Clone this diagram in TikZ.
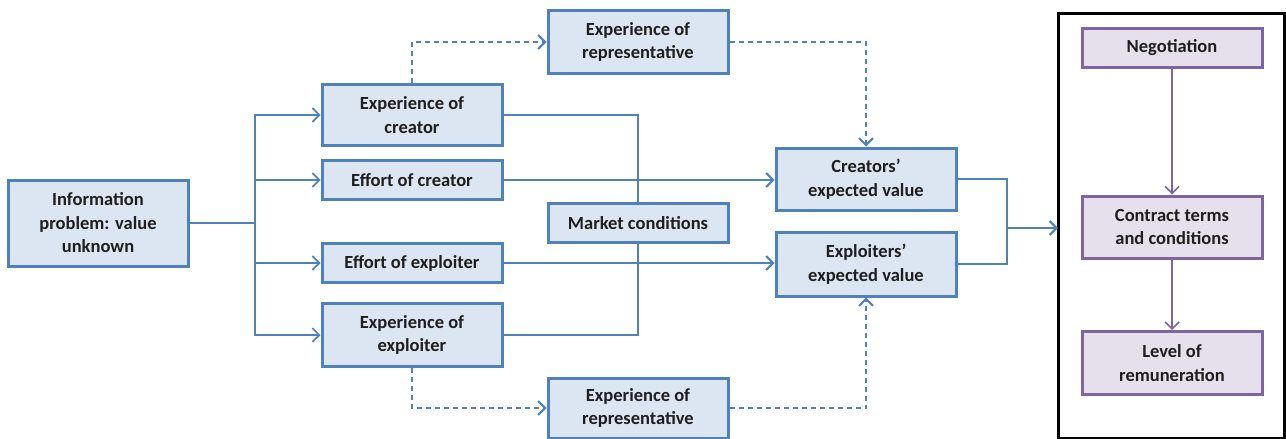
\documentclass[tikz,border=0pt]{standalone}
\usepackage{fontspec}
\setmainfont{Carlito}
\usetikzlibrary{arrows.meta}
\definecolor{bb}{HTML}{4F81BD}
\definecolor{bf}{HTML}{DCE6F2}
\definecolor{pb}{HTML}{8064A2}
\definecolor{pf}{HTML}{E6E0EC}
\definecolor{tx}{HTML}{1E1E1E}
\begin{document}
\begin{tikzpicture}[x=1pt,y=-1pt,
  box/.style={draw=bb,fill=bf,line width=3pt,minimum width=180pt,align=center,
    font=\fontsize{18.5}{23.5}\selectfont\bfseries,text=tx,inner sep=1pt},
  pbox/.style={box,draw=pb,fill=pf},
  conn/.style={draw=bb,line width=1.5pt},
  thick conn/.style={draw=bb,line width=2.3pt},
  arr/.style={conn,-{Straight Barb[length=7pt,width=14pt,line width=1.6pt]}},
  tarr/.style={thick conn,-{Straight Barb[length=7pt,width=14pt,line width=2pt]}},
  darr/.style={tarr,dashed,dash pattern=on 5pt off 4pt},
  dconn/.style={thick conn,dashed,dash pattern=on 5pt off 4pt},
  parr/.style={draw=pb,line width=1.6pt,-{Straight Barb[length=7pt,width=14pt,line width=1.6pt]}}]
\useasboundingbox (0,0) rectangle (1286,439);
\node[box,minimum width=180pt,minimum height=86pt] (info) at (98,223) {Information\\problem: value\\unknown};
\node[box,minimum height=61pt] (expc) at (412,115) {Experience of\\creator};
\node[box,minimum height=39pt] (effc) at (412,180) {Effort of creator};
\node[box,minimum height=39pt] (effe) at (412,263) {Effort of exploiter};
\node[box,minimum height=63pt] (expe) at (412,335) {Experience of\\exploiter};
\node[box,minimum height=63pt] (rept) at (638,42) {Experience of\\representative};
\node[box,minimum height=39pt] (mkt) at (638,223) {Market conditions};
\node[box,minimum height=60pt] (repb) at (638,408) {Experience of\\representative};
\node[box,minimum height=62pt] (cev) at (866,179) {Creators'\\expected value};
\node[box,minimum height=64pt] (eev) at (866,264) {Exploiters'\\expected value};
\draw[line width=3pt,black] (1058,13) rectangle (1284,438);
\coordinate (bigl) at (1058,228);
\node[pbox,minimum height=39pt] (neg) at (1172,48) {Negotiation};
\node[pbox,minimum height=62pt] (ctc) at (1172,227) {Contract terms\\and conditions};
\node[pbox,minimum height=63pt] (lev) at (1172,363) {Level of\\remuneration};
% trunk
\coordinate (tr) at (255,223);
\draw[thick conn] (info.east) -- (tr);
\draw[arr] (tr) |- (expc.west);
\draw[arr] (tr) |- (effc.west);
\draw[arr] (tr) |- (effe.west);
\draw[arr] (tr) |- (expe.west);
% market
\draw[conn] (expc.east) -| (mkt.north);
\draw[conn] (expe.east) -| (mkt.south);
\draw[tarr] (effc.east) -- (effc.east -| cev.west);
\draw[tarr] (effe.east) -- (effe.east -| eev.west);
% dashed
\draw[darr] (expc.north) |- (rept.west);
\draw[darr] (rept.east) -| (cev.north);
\draw[darr] (expe.south) |- (repb.west);
\draw[darr] (repb.east) -| (eev.south);
% merge
\coordinate (mg) at (1007,228);
\draw[conn] (cev.east) -| (mg);
\draw[conn] (eev.east) -| (mg);
\draw[tarr] (mg) -- (bigl);
\draw[parr] (neg.south) -- (ctc.north);
\draw[parr] (ctc.south) -- (lev.north);
\end{tikzpicture}
\end{document}
